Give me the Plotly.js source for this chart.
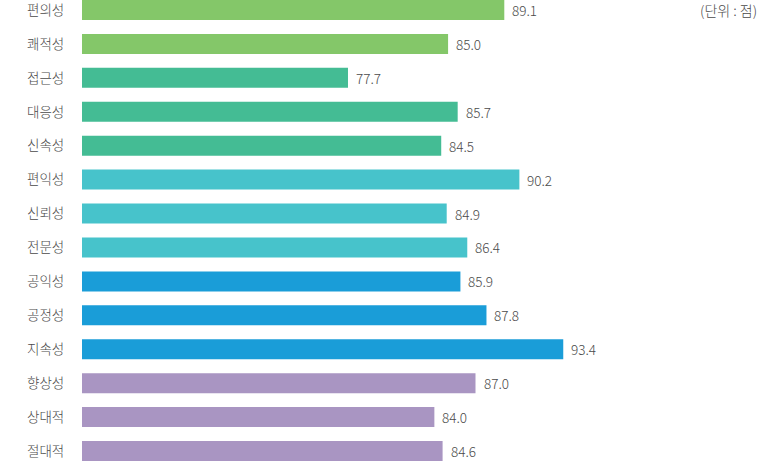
<!DOCTYPE html>
<html>
<head>
<meta charset="utf-8">
<script src="https://cdn.plot.ly/plotly-3.0.1.min.js"></script>
<style>html,body{margin:0;padding:0;background:#fff;}#chart{width:760px;height:461px;}</style>
</head>
<body>
<div id="chart"></div>
<script>
const categories = ['편의성','쾌적성','접근성','대응성','신속성','편익성','신뢰성','전문성','공익성','공정성','지속성','향상성','상대적','절대적'];
const scores = [89.1, 85.0, 77.7, 85.7, 84.5, 90.2, 84.9, 86.4, 85.9, 87.8, 93.4, 87.0, 84.0, 84.6];
const unitLabel = '(단위 : 점)';

const groupColors = ['#84C769','#84C769','#44BC94','#44BC94','#44BC94','#47C3CB','#47C3CB','#47C3CB','#1A9DD8','#1A9DD8','#1A9DD8','#A995C2','#A995C2','#A995C2'];
const FONT = '"Noto Sans CJK KR", "Noto Sans", sans-serif';
const TEXT = '#4a4a4a';

const trace = {
  type: 'bar',
  orientation: 'h',
  y: categories,
  x: scores,
  width: 0.59,
  marker: {color: groupColors, line: {width: 0}},
  textposition: 'none',
  hoverinfo: 'skip',
  cliponaxis: true
};

const annotations = scores.map((v, i) => ({
  x: v, y: categories[i], xref: 'x', yref: 'y',
  text: v.toFixed(1), showarrow: false,
  xanchor: 'left', yanchor: 'middle', xshift: 6,
  font: {family: FONT, size: 13.5, color: TEXT, weight: 300}
}));
annotations.push({
  x: 1, y: categories[0], xref: 'paper', yref: 'y', yanchor: 'middle', xanchor: 'right',
  text: unitLabel, showarrow: false, xshift: -1,
  font: {family: FONT, size: 14, color: TEXT, weight: 300}
});

const layout = {
  width: 760, height: 461,
  margin: {l: 82, r: 0, t: 0, b: 0, pad: 0},
  paper_bgcolor: '#ffffff', plot_bgcolor: '#ffffff',
  showlegend: false,
  font: {family: FONT, color: TEXT, size: 13},
  xaxis: {range: [58.3, 107.75], visible: false, fixedrange: true},
  yaxis: {
    type: 'category', range: [13.295, -0.295],
    showgrid: false, zeroline: false, showline: false,
    ticks: 'outside', ticklen: 14, tickcolor: 'rgba(0,0,0,0)',
    tickfont: {family: FONT, size: 13.5, color: TEXT, weight: 300}
  },
  annotations: annotations
};

Plotly.newPlot('chart', [trace], layout, {displayModeBar: false, staticPlot: true});
</script>
</body>
</html>
